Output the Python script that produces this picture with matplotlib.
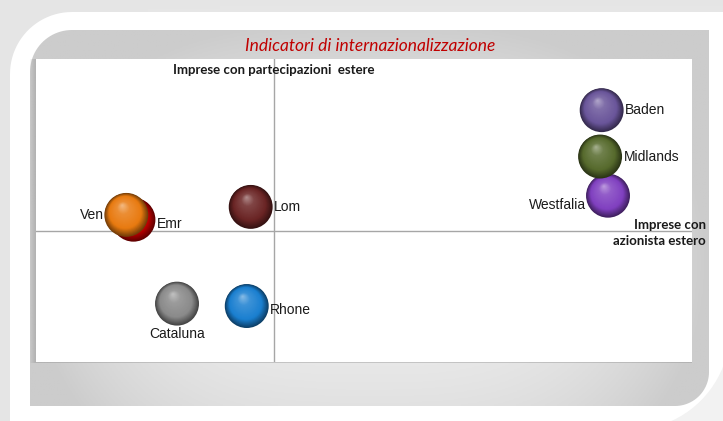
import numpy as np
import matplotlib
matplotlib.use("Agg")
import matplotlib.pyplot as plt
from matplotlib.patches import PathPatch
from matplotlib.path import Path
from matplotlib import transforms
from matplotlib.colors import to_rgb

# ---- data ----
regions = ["Emr", "Ven", "Lom", "Cataluna", "Rhone", "Baden", "Westfalia", "Midlands"]
x_vals = [-17.7, -18.6, -2.9, -12.2, -3.4, 41.4, 42.2, 41.2]
y_vals = [1.4, 2.0, 3.0, -9.1, -9.4, 15.1, 4.4, 9.3]
colors = ["#c00000", "#e87a10", "#6a2424", "#8a8a8a", "#1a7fd0", "#6a559a", "#8040c0", "#566a2c"]
label_pos = ["right_low", "left", "right", "below", "right_low", "right", "left_low", "right"]
title = "Indicatori di internazionalizzazione"
ylabel_text = "Imprese con partecipazioni  estere"
xlabel_text = "Imprese con\nazionista estero"

W, H = 723, 421
fig = plt.figure(figsize=(W / 100, H / 100), dpi=100)
fig.patch.set_facecolor("#ebebeb")


def fx(px):
    return px / W


def fy(py):
    return 1 - py / H


def rrect(x0, y0, x1, y1, tl=0, tr=0, br=0, bl=0, n=24):
    pts = []

    def arc(cx, cy, r, a0, a1):
        if r == 0:
            return [(cx, cy)]
        a = np.linspace(np.radians(a0), np.radians(a1), n)
        return list(zip(cx + r * np.cos(a), cy + r * np.sin(a)))
    pts += arc(x0 + tl, y0 + tl, tl, 180, 270)
    pts += arc(x1 - tr, y0 + tr, tr, 270, 360)
    pts += arc(x1 - br, y1 - br, br, 0, 90)
    pts += arc(x0 + bl, y1 - bl, bl, 90, 180)
    pts.append(pts[0])
    codes = [Path.MOVETO] + [Path.LINETO] * (len(pts) - 2) + [Path.CLOSEPOLY]
    return Path(pts, codes)


# background axes in pixel coordinates
bg = fig.add_axes([0, 0, 1, 1], zorder=0)
bg.set_xlim(0, W)
bg.set_ylim(H, 0)
bg.axis("off")

# outer soft gradient
gx = np.linspace(0, 1, 240)
gy = np.linspace(0, 1, 140)
GX, GY = np.meshgrid(gx, gy)
v_out = 0.90 + 0.05 * np.clip(GX * 3, 0, 1) * np.clip(GY * 3, 0, 1)
bg.imshow(np.dstack([v_out] * 3), extent=[0, W, H, 0], aspect="auto", zorder=0)

# white frame
bg.add_patch(PathPatch(rrect(10, 12, 730, 430, tl=62, br=100), facecolor="white",
                       edgecolor="none", zorder=1))

# inner gray panel with gradient
panel = PathPatch(rrect(30, 30, 709, 406, tl=42, br=34), facecolor="none", edgecolor="none", zorder=2)
bg.add_patch(panel)
dx = np.abs(GX - 0.5) * 2
dy = np.abs(GY - 0.62) * 2
v_in = 0.93 - 0.13 * np.clip(dx ** 3 + 0.6 * dy ** 2, 0, 1)
im = bg.imshow(np.dstack([v_in] * 3), extent=[30, 709, 406, 30], aspect="auto", zorder=2)
im.set_clip_path(panel)
bg.set_xlim(0, W)
bg.set_ylim(H, 0)

# shadow for plot area
for k in range(6):
    bg.add_patch(PathPatch(rrect(36 - 6 + k, 59, 692, 362 + 1), facecolor=(0.55, 0.55, 0.55, 0.07),
                           edgecolor="none", zorder=3))

# main axes
ax = fig.add_axes([fx(36), fy(362), fx(692) - fx(36), fy(59) - fy(362)], zorder=2)
ax.set_facecolor("white")
ax.set_xlim(-30, 52.8)
ax.set_ylim(-16.4, 21.5)
for s in ax.spines.values():
    s.set_visible(False)
ax.set_xticks([])
ax.set_yticks([])
ax.axhline(0, color="#a6a6a6", lw=1.0, zorder=1)
ax.axvline(0, color="#a6a6a6", lw=1.0, zorder=1)

# shaded spheres
base_s = 1000
nlay = 30
for i, (name, x, y, c) in enumerate(zip(regions, x_vals, y_vals, colors)):
    rgb = np.array(to_rgb(c))
    z = 3 + i * 0.1
    ax.scatter([x], [y], s=base_s, color=rgb * 0.5, edgecolors="none", zorder=z)
    for k in range(1, nlay):
        t = k / nlay
        r = 1 - t
        if t < 0.25:
            col = rgb * (0.5 + 0.5 * t / 0.25)
        elif t < 0.7:
            col = rgb + (1 - rgb) * 0.15 * (t - 0.25) / 0.45
        else:
            col = rgb + (1 - rgb) * (0.15 + 0.35 * (t - 0.7) / 0.3)
        col = np.clip(col, 0, 1)
        tr = transforms.offset_copy(ax.transData, fig=fig, x=-3 * t, y=7 * t, units="points")
        ax.scatter([x], [y], s=base_s * r ** 2, color=col, edgecolors="none", zorder=z + 0.001 * k,
                   transform=tr)

# labels
for name, x, y, pos in zip(regions, x_vals, y_vals, label_pos):
    kw = dict(fontsize=10, family="Liberation Sans", color="#1a1a1a", zorder=10)
    if pos == "right":
        ax.annotate(name, (x, y), xytext=(17, 0), textcoords="offset points", ha="left", va="center", **kw)
    elif pos == "right_low":
        ax.annotate(name, (x, y), xytext=(17, -3), textcoords="offset points", ha="left", va="center", **kw)
    elif pos == "left":
        ax.annotate(name, (x, y), xytext=(-16, 0), textcoords="offset points", ha="right", va="center", **kw)
    elif pos == "left_low":
        ax.annotate(name, (x, y), xytext=(-16, -7), textcoords="offset points", ha="right", va="center", **kw)
    elif pos == "below":
        ax.annotate(name, (x, y), xytext=(0, -22), textcoords="offset points", ha="center", va="center", **kw)

fig.text(fx(370), fy(46), title, ha="center", va="center", fontsize=12.5, style="italic",
         family="Lato", color="#c00000", zorder=5)
fig.text(fx(274), fy(70), ylabel_text, ha="center", va="center", fontsize=9.5, weight="bold",
         family="Lato", color="#1a1a1a", zorder=5)
fig.text(fx(706), fy(233), xlabel_text, ha="right", va="center", fontsize=9.5, weight="bold",
         family="Lato", color="#1a1a1a", zorder=5, linespacing=1.4)

fig.savefig("out.png", dpi=100, facecolor=fig.get_facecolor())
